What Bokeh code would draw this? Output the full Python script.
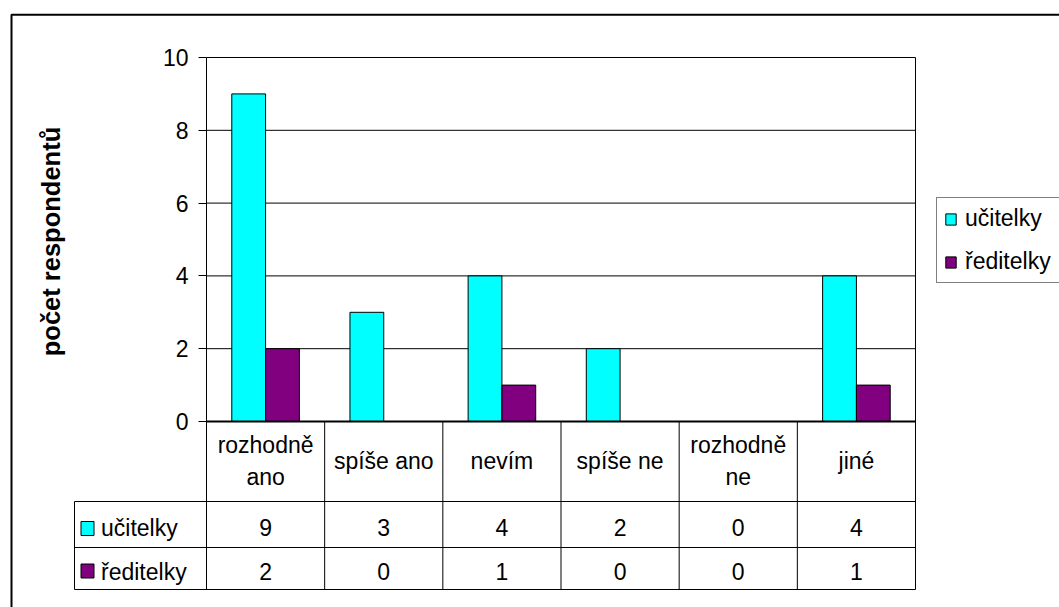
import math
from bokeh.plotting import figure
from bokeh.models import ColumnDataSource, Range1d, FixedTicker, Legend, LegendItem
from bokeh.core.properties import value
from bokeh.embed import file_html
from bokeh.resources import INLINE

# ---------------- data ----------------
categories = ["rozhodně ano", "spíše ano", "nevím", "spíše ne", "rozhodně ne", "jiné"]
category_labels = ["rozhodně\nano", "spíše ano", "nevím", "spíše ne", "rozhodně\nne", "jiné"]
series_names = ["učitelky", "ředitelky"]
ucitelky = [9, 3, 4, 2, 0, 4]
reditelky = [2, 0, 1, 0, 0, 1]
y_ticks = [0, 2, 4, 6, 8, 10]
y_title = "počet respondentů"

colors = ["#00FFFF", "#800080"]
FONT = "Liberation Sans"

# ---------------- layout (page pixels) ----------------
W, H = 1059, 607
M = 0
plot_left, plot_right, plot_top, plot_bottom = 206, 915, 57, 421
n = len(categories)
y_max = y_ticks[-1]
ux = (plot_right - plot_left) / n
uy = (plot_bottom - plot_top) / y_max

x_start = -(plot_left - M) / ux
x_end = (M + W - plot_left) / ux
y_end = (plot_bottom - M) / uy
y_start = -(M + H - plot_bottom) / uy


def px2x(px):
    return (px - plot_left) / ux


def px2y(py):
    return (plot_bottom - py) / uy


p = figure(width=W, height=H, output_backend="svg", toolbar_location=None,
           x_range=Range1d(x_start, x_end), y_range=Range1d(y_start, y_end),
           x_axis_type=None, min_border=0, min_border_left=0, min_border_right=0,
           min_border_top=0, min_border_bottom=0)
p.outline_line_color = None
p.xgrid.visible = False
p.ygrid.visible = False
p.background_fill_color = "white"
p.border_fill_color = "white"

# y axis at x = 0, limited to 0..10
ax = p.yaxis[0]
ax.fixed_location = 0
ax.bounds = (0, y_max)
ax.ticker = FixedTicker(ticks=y_ticks)
ax.minor_tick_line_color = None
ax.major_tick_out = 8
ax.major_tick_in = 0
ax.major_tick_line_color = "black"
ax.axis_line_color = "black"
ax.axis_line_width = 1
ax.major_label_text_font = FONT
ax.major_label_text_font_size = "23px"
ax.major_label_text_color = "black"
ax.major_label_standoff = 10

# outer chart border (right/bottom cropped off)
p.quad(left=[px2x(11)], right=[x_end + 1], top=[px2y(14.3)], bottom=[y_start - 1],
       fill_color=None, line_color="black", line_width=2)

# horizontal gridlines
grid_y = y_ticks[1:]
p.segment(x0=[0] * len(grid_y), x1=[n] * len(grid_y), y0=grid_y, y1=grid_y,
          line_color="black", line_width=1)

# bars
bar_w = 0.286
dodge = 0.143
centers = [i + 0.5 for i in range(n)]
src = ColumnDataSource(dict(
    x1=[c - dodge for c in centers], x2=[c + dodge for c in centers],
    u=ucitelky, r=reditelky))
r1 = p.vbar(x="x1", top="u", bottom=0, width=bar_w, source=src,
            fill_color=colors[0], line_color="black", line_width=1)
r2 = p.vbar(x="x2", top="r", bottom=0, width=bar_w, source=src,
            fill_color=colors[1], line_color="black", line_width=1)

# data table
row_tops = [plot_bottom, 501, 547]
table_bottom = 589
table_left = 74
yb = px2y(table_bottom)

vx0, vy0, vx1, vy1 = [], [], [], []
for i in range(n + 1):
    vx0.append(i); vx1.append(i)
    vy0.append(yb); vy1.append(y_max if i == n else 0)
vx0.append(px2x(table_left)); vx1.append(px2x(table_left))
vy0.append(px2y(row_tops[1])); vy1.append(yb)
p.segment(x0=vx0, x1=vx1, y0=vy0, y1=vy1, line_color="black", line_width=1)

hy = [px2y(row_tops[1]), px2y(row_tops[2]), yb]
p.segment(x0=[px2x(table_left)] * 3, x1=[n] * 3, y0=hy, y1=hy,
          line_color="black", line_width=1)
# category axis line (thicker)
p.segment(x0=[0], x1=[n], y0=[0], y1=[0], line_color="black", line_width=2)

# category labels
p.text(x=centers, y=[px2y(460.5)] * n, text=category_labels,
       text_font=value(FONT), text_font_size="23px", text_color="black",
       text_align="center", text_baseline="middle", text_line_height=1.25)

# values
row_centers = [527, 571]
for vals, rc in zip([ucitelky, reditelky], row_centers):
    p.text(x=centers, y=[px2y(rc)] * n, text=[str(v) for v in vals],
           text_font=value(FONT), text_font_size="23px", text_color="black",
           text_align="center", text_baseline="middle")

# row headers
p.rect(x=[px2x(87)] * 2, y=[px2y(528), px2y(570.5)], width=13, height=14,
       width_units="screen", height_units="screen",
       fill_color=colors, line_color="black", line_width=1)
p.text(x=[px2x(100.5)] * 2, y=[px2y(rc) for rc in row_centers], text=series_names,
       text_font=value(FONT), text_font_size="23px", text_color="black",
       text_align="left", text_baseline="middle")

# y axis title
p.text(x=[px2x(50)], y=[px2y(241)], text=[y_title], angle=math.pi / 2,
       text_font=value(FONT), text_font_size="25.5px", text_font_style="bold",
       text_color="black", text_align="center", text_baseline="middle")

# legend
legend = Legend(items=[LegendItem(label=series_names[0], renderers=[r1]),
                       LegendItem(label=series_names[1], renderers=[r2])],
                location=(936 - M, H - (283 - M)), orientation="vertical",
                border_line_color="black", border_line_width=1,
                background_fill_color="white", background_fill_alpha=1.0,
                label_text_font=FONT, label_text_font_size="23px",
                label_text_color="black",
                glyph_width=13, glyph_height=14, label_standoff=8,
                padding=7, spacing=16, margin=0, label_width=110, label_height=25)
p.add_layout(legend)

open("out.html", "w").write(file_html(p, INLINE))
